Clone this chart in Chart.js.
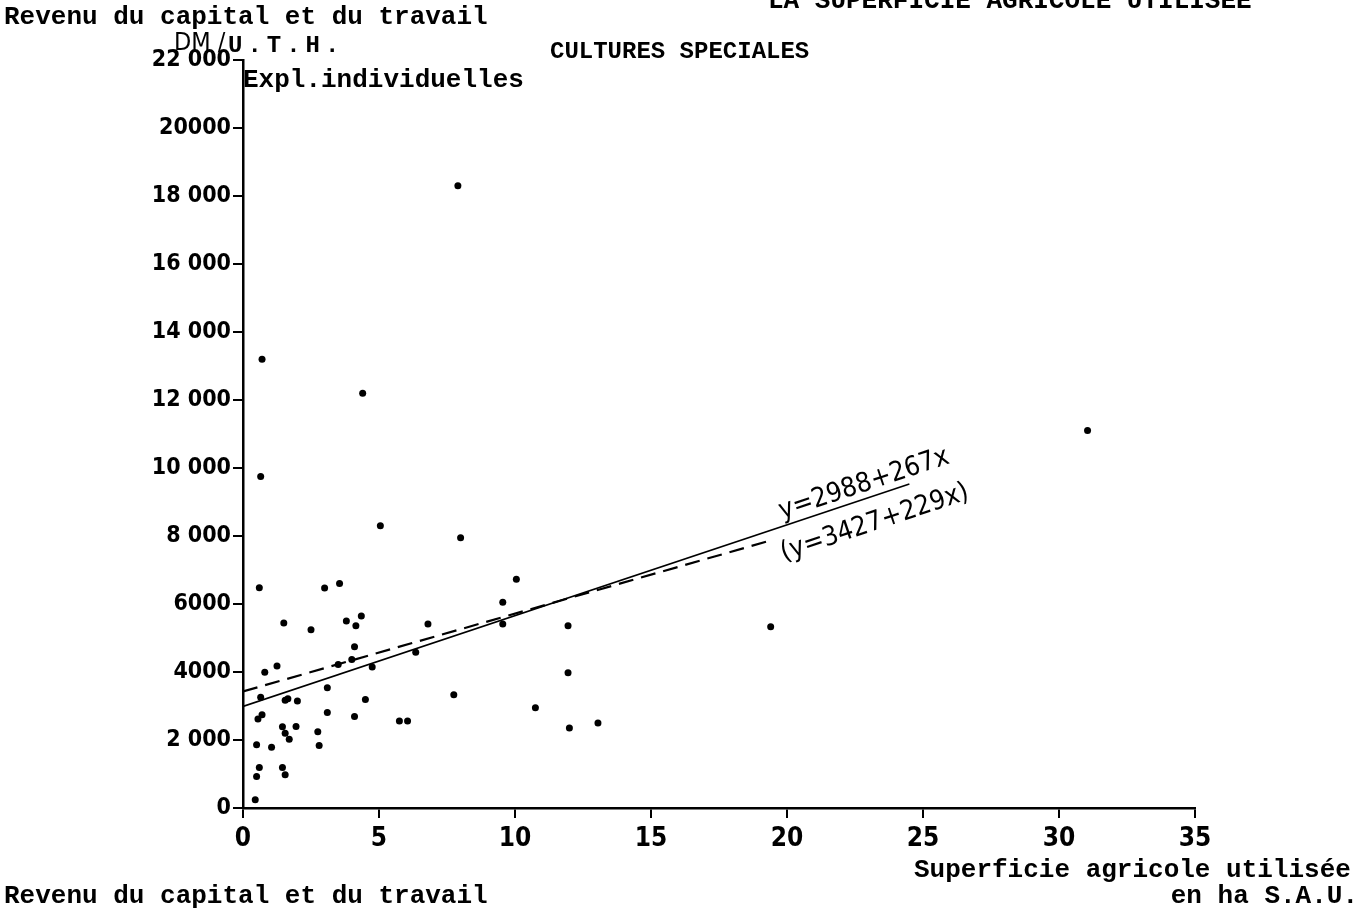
<!DOCTYPE html>
<html>
<head>
<meta charset="utf-8">
<script src="https://cdn.jsdelivr.net/npm/chart.js@4.4.1/dist/chart.umd.min.js"></script>
<style>
  html, body { margin: 0; padding: 0; background: #fff; }
  #wrap { width: 1367px; height: 911px; }
</style>
</head>
<body>
<div id="wrap"><canvas id="myChart" width="1367" height="911"></canvas></div>
<script>
// S.A.U. (ha) and revenue (DM / U.T.H.) of each farm
var surface = [7.9, 0.7, 4.4, 0.65, 31.05, 5.05, 8.0, 0.6, 3.0, 3.55,
  10.05, 9.55, 1.5, 2.5, 3.8, 4.15, 4.35, 6.8, 9.55, 11.95,
  19.4, 4.1, 6.35, 4.0, 3.5, 4.75, 1.25, 0.8, 11.95, 0.65,
  3.1, 1.55, 1.65, 2.0, 4.5, 7.75, 10.75, 0.7, 0.55, 3.1,
  4.1, 5.75, 6.05, 13.05, 12.0, 1.45, 1.95, 2.75, 1.55, 1.7,
  0.5, 1.05, 2.8, 0.6, 0.5, 1.45, 1.55, 0.45];
var income = [18300, 13200, 12200, 9750, 11100, 8300, 7950, 6480, 6470, 6600,
  6730, 6050, 5440, 5240, 5500, 5360, 5650, 5410, 5410, 5360,
  5330, 4740, 4580, 4370, 4220, 4150, 4180, 3990, 3980, 3260,
  3540, 3170, 3210, 3150, 3190, 3330, 2950, 2740, 2620, 2810,
  2690, 2560, 2560, 2500, 2350, 2390, 2400, 2240, 2200, 2020,
  1860, 1790, 1840, 1190, 930, 1190, 980, 240];

var xTicks = [0, 5, 10, 15, 20, 25, 30, 35];
var yTickLabels = ['0', '2 000', '4000', '6000', '8 000', '10 000', '12 000',
  '14 000', '16 000', '18 000', '20000', '22 000'];

// regression lines: [intercept, slope] and the x range they are drawn over
var fitSolid = [2988, 267];
var fitSolidRange = [0, 24.5];
var fitDashed = [3427, 229];
var fitDashedRange = [0, 19.3];
var fitLabels = ['y=2988+267x', '(y=3427+229x)'];

var mono = "'Liberation Mono', 'DejaVu Sans Mono', monospace";
var narrow = "'Liberation Sans Narrow', 'DejaVu Sans Condensed', Roboto, sans-serif";

var points = surface.map(function (x, i) { return { x: x, y: income[i] }; });

function fitLine(coef, range) {
  return range.map(function (x) { return { x: x, y: coef[0] + coef[1] * x }; });
}

var paperText = {
  id: 'paperText',
  afterDraw: function (chart) {
    var ctx = chart.ctx;
    var xs = chart.scales.x, ys = chart.scales.y;
    ctx.save();
    ctx.fillStyle = '#000';
    ctx.textBaseline = 'alphabetic';

    ctx.font = 'bold 26px ' + mono;
    ctx.textAlign = 'left';
    ctx.fillText('Revenu du capital et du travail', 4, 24);
    ctx.fillText('LA SUPERFICIE AGRICOLE UTILISEE', 768, 8);
    ctx.fillText('Expl.individuelles', 243, 87);
    ctx.fillText('Superficie agricole utilis\u00e9e', 914, 877);
    ctx.fillText('Revenu du capital et du travail', 4, 903);
    ctx.textAlign = 'right';
    ctx.fillText('en ha S.A.U.', 1358, 903);

    ctx.textAlign = 'left';
    ctx.font = 'bold 24px ' + mono;
    ctx.fillText('CULTURES SPECIALES', 550, 58);
    ctx.letterSpacing = '5px';
    ctx.fillText('U.T.H.', 228, 52);
    ctx.letterSpacing = '0px';
    ctx.font = '25px ' + narrow;
    ctx.fillText('DM /', 174, 50);

    // equations written along the fitted lines
    var fits = [[19.9, -7], [19.5, 33]];
    ctx.font = '27px ' + narrow;
    fits.forEach(function (f, i) {
      var x0 = f[0];
      var px = xs.getPixelForValue(x0);
      var py = ys.getPixelForValue(fitSolid[0] + fitSolid[1] * x0);
      var px2 = xs.getPixelForValue(x0 + 5);
      var py2 = ys.getPixelForValue(fitSolid[0] + fitSolid[1] * (x0 + 5));
      var ang = Math.atan2(py2 - py, px2 - px);
      ctx.save();
      ctx.translate(px, py);
      ctx.rotate(ang);
      ctx.fillText(fitLabels[i], 0, f[1]);
      ctx.restore();
    });
    ctx.restore();
  }
};

var ctx = document.getElementById('myChart');
var myChart = new Chart(ctx, {
  type: 'scatter',
  data: {
    datasets: [{
      label: 'Expl. individuelles',
      data: points,
      backgroundColor: '#000',
      borderWidth: 0,
      pointRadius: 3.5
    }, {
      type: 'line',
      label: fitLabels[0],
      data: fitLine(fitSolid, fitSolidRange),
      borderColor: '#000',
      borderWidth: 1.6,
      pointRadius: 0,
      fill: false
    }, {
      type: 'line',
      label: fitLabels[1],
      data: fitLine(fitDashed, fitDashedRange),
      borderColor: '#000',
      borderWidth: 2.2,
      borderDash: [15, 8],
      pointRadius: 0,
      fill: false
    }]
  },
  options: {
    responsive: false,
    animation: false,
    devicePixelRatio: 1,
    layout: { padding: { left: 0, top: 60, right: 172, bottom: 0 } },
    plugins: {
      legend: { display: false },
      tooltip: { enabled: false }
    },
    scales: {
      x: {
        type: 'linear',
        min: 0,
        max: 35,
        afterFit: function (scale) { scale.height = 103; },
        border: { display: true, color: '#000', width: 2.5 },
        grid: { drawOnChartArea: false, drawTicks: true, tickLength: 10, color: '#000', lineWidth: 2 },
        ticks: {
          stepSize: 5,
          padding: 6,
          color: '#000',
          font: { family: narrow, size: 26, weight: 'bold' },
          callback: function (v) { return xTicks.indexOf(v) >= 0 ? String(v) : ''; }
        }
      },
      y: {
        type: 'linear',
        min: 0,
        max: 22000,
        afterFit: function (scale) { scale.width = 243; },
        border: { display: true, color: '#000', width: 2.5 },
        grid: { drawOnChartArea: false, drawTicks: true, tickLength: 10, color: '#000', lineWidth: 2 },
        ticks: {
          stepSize: 2000,
          padding: 2,
          color: '#000',
          font: { family: narrow, size: 23, weight: 'bold' },
          callback: function (v) { return yTickLabels[Math.round(v / 2000)]; }
        }
      }
    }
  },
  plugins: [paperText]
});
</script>
</body>
</html>
